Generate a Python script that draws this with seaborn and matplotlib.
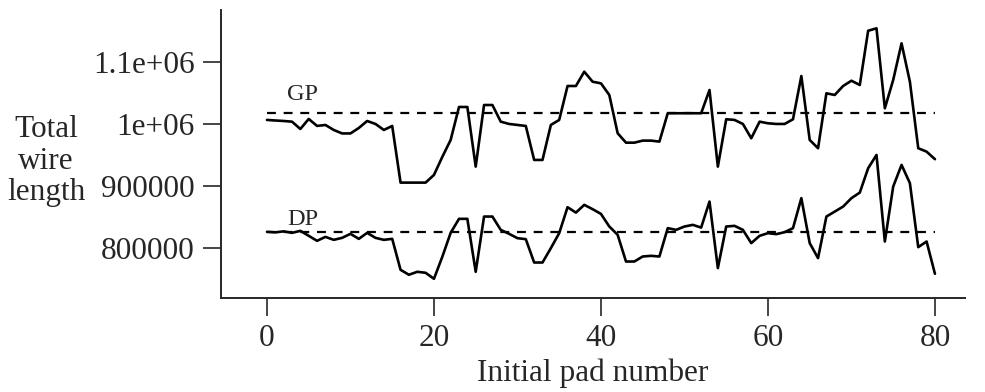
import numpy as np
import pandas as pd
import seaborn as sns
import matplotlib.pyplot as plt

# Valeurs (longueur totale de fil)
pad = list(range(81))

gp = [1006500, 1005600, 1004800, 1003700, 991900, 1008100, 996800, 998400, 990300, 984700,
      984700, 993500, 1004800, 1000000, 990300, 996800, 905300, 905300, 905300, 905300,
      917700, 946800, 974200, 1027400, 1027400, 931100, 1030600, 1030600, 1003700, 1000000,
      998400, 996800, 941900, 941900, 998400, 1006500, 1061300, 1061300, 1084400, 1068200,
      1065600, 1046800, 985000, 969800, 969800, 973100, 973100, 971500, 1017300, 1017300,
      1017300, 1017300, 1017300, 1054800, 931100, 1007600, 1006500, 1000000, 976900, 1003700,
      1001100, 1000000, 1000000, 1007600, 1077400, 974200, 960800, 1049500, 1046800, 1061300,
      1069800, 1062900, 1150500, 1154400, 1025300, 1071000, 1130200, 1068200, 960800, 955300,
      943100]

dp = [825800, 825000, 826600, 824200, 827400, 819400, 811300, 817700, 812900, 816100,
      822600, 814500, 824200, 816100, 812900, 814500, 764500, 756500, 761300, 759700,
      750000, 785500, 824200, 846800, 846800, 761300, 850500, 850500, 829000, 822600,
      815600, 814000, 776300, 776300, 799500, 823700, 865600, 856900, 869400, 862400,
      854800, 834400, 821000, 777900, 777900, 786000, 787100, 786000, 831800, 829000,
      834400, 837100, 832700, 874700, 767300, 834400, 835500, 829000, 807600, 819400,
      823700, 822100, 825300, 831800, 880200, 807600, 783400, 850500, 858500, 866600,
      880200, 889200, 928500, 950000, 810200, 898900, 933900, 904400, 801100, 810200,
      758100]

gp_ref = 1017300
dp_ref = 825300

x_ticks = [0, 20, 40, 60, 80]
y_ticks = [800000, 900000, 1000000, 1100000]
y_tick_labels = ["800000", "900000", "1e+06", "1.1e+06"]

df = pd.DataFrame({"pad": pad, "GP": gp, "DP": dp})

sns.set_style("ticks")
plt.rcParams['font.family'] = ['Liberation Serif', 'DejaVu Serif']

fig = plt.figure(figsize=(9.85, 3.92), dpi=100)
ax = fig.add_axes([0.2244, 0.2398, 0.9797 - 0.2244, 0.9745 - 0.2398])

sns.lineplot(data=df, x="pad", y="GP", color="black", linewidth=1.9, ax=ax)
sns.lineplot(data=df, x="pad", y="DP", color="black", linewidth=1.9, ax=ax)

# Lignes de référence en pointillés
for ref in [gp_ref, dp_ref]:
    ax.plot([pad[0], pad[-1]], [ref, ref], color="black", linewidth=1.6,
            linestyle=(0, (4, 3.5)))

ax.text(2.4, 1038700, "GP", fontsize=17.5, ha="left", va="baseline")
ax.text(2.4, 837100, "DP", fontsize=17.5, ha="left", va="baseline")

ax.set_xlim(-5.5, 83.6)
ax.set_ylim(719000, 1184000)
ax.set_xticks(x_ticks)
ax.set_yticks(y_ticks)
ax.set_yticklabels(y_tick_labels)
ax.tick_params(axis="both", labelsize=22.5, length=13, width=1.2, pad=6, direction="out")

ax.set_xlabel("Initial pad number", fontsize=22.5, labelpad=4)
ax.set_ylabel("Total\nwire\nlength", fontsize=22.5, rotation=0, ha="center", va="center",
              linespacing=1.12)
ax.yaxis.set_label_coords(-0.235, 0.475)

sns.despine(ax=ax)
for side in ["left", "bottom"]:
    ax.spines[side].set_linewidth(1.4)

fig.savefig("out.png", dpi=100)
